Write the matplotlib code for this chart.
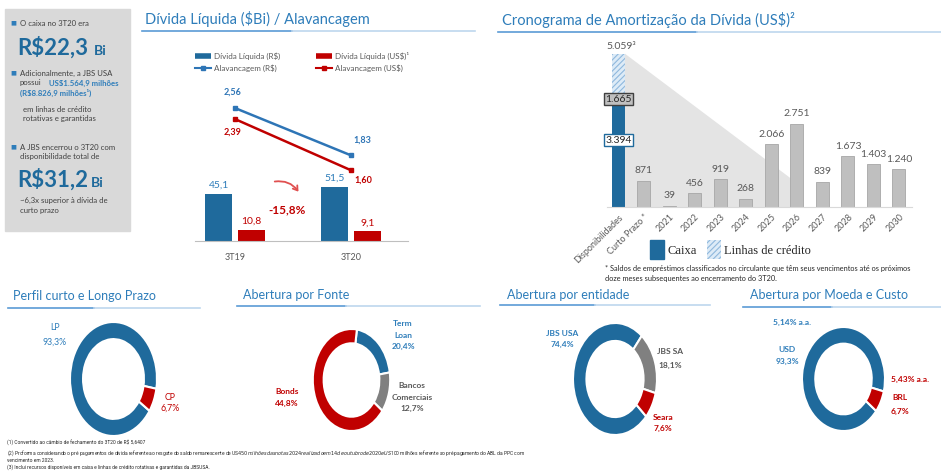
import numpy as np
import matplotlib
matplotlib.use('Agg')
import matplotlib.pyplot as plt
from matplotlib.patches import Rectangle, FancyArrowPatch, Polygon
from matplotlib.lines import Line2D

plt.rcParams['font.family'] = ['Lato', 'DejaVu Sans']
plt.rcParams['hatch.linewidth'] = 0.8

# Dívida líquida / alavancagem
periodos = ['3T19', '3T20']
divida_rs = [45.1, 51.5]
divida_us = [10.8, 9.1]
alav_rs = [2.56, 1.83]
alav_us = [2.39, 1.60]
variacao = '-15,8%'

# Cronograma de amortização (US$ milhões)
categorias = ['Disponibilidades', 'Curto Prazo *', '2021', '2022', '2023', '2024',
              '2025', '2026', '2027', '2028', '2029', '2030']
caixa = 3394
linhas_credito = 1665
amortizacao = [871, 39, 456, 919, 268, 2066, 2751, 839, 1673, 1403, 1240]

# Roscas
perfil_vals = [93.3, 6.7]          # LP, CP
fonte_vals = [20.4, 12.7, 66.9]    # Term Loan, Bancos Comerciais, Bonds (fatia vermelha visível)
entidade_vals = [74.4, 18.1, 7.6]  # JBS USA, JBS SA, Seara
moeda_vals = [93.3, 6.7]           # USD, BRL

W, H = 941, 476
AZUL = '#1f6a9c'
AZUL_TXT = '#2e7dba'
VERMELHO = '#c00000'
CINZA = '#808080'
CINZA_TXT = '#595959'

fig = plt.figure(figsize=(W / 100, H / 100), dpi=100)


def fx(x):
    return x / W


def fy(y):
    return 1 - y / H


def nova_ax(l, t, r, b):
    return fig.add_axes([fx(l), fy(b), (r - l) / W, (b - t) / H])


def texto(x, y, s, **kw):
    kw.setdefault('va', 'center')
    kw.setdefault('ha', 'left')
    fig.text(fx(x), fy(y), s, **kw)


def titulo(x, y, s, x0, x1, yl, size=10.5):
    texto(x, y, s, color=AZUL_TXT, fontsize=size)
    meio = x0 + (x1 - x0) * 0.45
    fig.add_artist(Line2D([fx(x0), fx(meio)], [fy(yl)] * 2, color='#5b9bd5', lw=1.2))
    fig.add_artist(Line2D([fx(meio), fx(x1)], [fy(yl)] * 2, color='#bdd7ee', lw=1.2))


def br(v, casas=1):
    return f'{v:.{casas}f}'.replace('.', ',')


def milhar(v):
    return f'{v:,}'.replace(',', '.')


# ---------- painel lateral ----------
fig.add_artist(Rectangle((fx(5), fy(231)), 125 / W, 222 / H, color='#d9d9d9', zorder=0))
corpo = dict(fontsize=5.6, color='#404040')
bala = dict(fontsize=4.5, color=AZUL_TXT)
texto(10, 23, '■', **bala)
texto(20, 23, 'O caixa no 3T20 era', **corpo)
texto(17, 48, 'R$22,3', fontsize=16, fontweight='bold', color=AZUL)
texto(94, 51, 'Bi', fontsize=10, fontweight='bold', color=AZUL)
texto(10, 73, '■', **bala)
texto(20, 73, 'Adicionalmente, a JBS USA', **corpo)
texto(20, 83, 'possui', **corpo)
texto(49, 83, 'US$1.564,9 milhões', fontsize=5.6, color=AZUL_TXT, fontweight='bold')
texto(20, 93, '(R$8.826,9 milhões¹)', fontsize=5.6, color=AZUL_TXT, fontweight='bold')
texto(23, 109, 'em linhas de crédito', **corpo)
texto(23, 119, 'rotativas e garantidas', **corpo)
texto(10, 147, '■', **bala)
texto(20, 147, 'A JBS encerrou o 3T20 com', **corpo)
texto(20, 157, 'disponibilidade total de', **corpo)
texto(17, 180, 'R$31,2', fontsize=16, fontweight='bold', color=AZUL)
texto(91, 183, 'Bi', fontsize=10, fontweight='bold', color=AZUL)
texto(20, 200, '~6,3x superior à dívida de', **corpo)
texto(20, 210, 'curto prazo', **corpo)

# ---------- Dívida líquida / Alavancagem ----------
titulo(145, 19, 'Dívida Líquida ($Bi) / Alavancagem', 142, 475, 31)
ax1 = nova_ax(195, 75, 408, 241)
x = np.arange(len(periodos))
desl, larg = 0.142, 0.23
ax1.bar(x - desl, divida_rs, larg, color=AZUL)
ax1.bar(x + desl, divida_us, larg, color=VERMELHO)
ax1.set_ylim(0, 158)
ax1.set_xlim(-0.345, 1.49)
for s in ['top', 'right', 'left']:
    ax1.spines[s].set_visible(False)
ax1.spines['bottom'].set_color('#bfbfbf')
ax1.set_yticks([])
ax1.set_xticks(x, periodos)
ax1.tick_params(axis='x', length=0, colors=CINZA_TXT, labelsize=6.5, pad=9)
ax1.patch.set_alpha(0)
for i in range(len(periodos)):
    ax1.annotate(br(divida_rs[i]), (x[i] - desl, divida_rs[i]), xytext=(0, 3),
                 textcoords='offset points', ha='center', va='bottom', fontsize=7.5, color=AZUL_TXT)
    ax1.annotate(br(divida_us[i]), (x[i] + desl, divida_us[i]), xytext=(0, 3),
                 textcoords='offset points', ha='center', va='bottom', fontsize=7.5, color=VERMELHO)

ax1b = ax1.twinx()
ax1b.plot(x, alav_rs, color='#2e75b6', marker='s', ms=3.5, lw=1.8)
ax1b.plot(x, alav_us, color=VERMELHO, marker='s', ms=3.5, lw=1.8)
ax1b.set_ylim(0.51, 3.07)
ax1b.axis('off')
ax1b.annotate(br(alav_rs[0], 2), (x[0], alav_rs[0]), xytext=(-2, 8), textcoords='offset points',
              ha='center', va='bottom', fontsize=6.5, fontweight='bold', color='#2e75b6')
ax1b.annotate(br(alav_us[0], 2), (x[0], alav_us[0]), xytext=(-2, -6), textcoords='offset points',
              ha='center', va='top', fontsize=6.5, fontweight='bold', color=VERMELHO)
ax1b.annotate(br(alav_rs[1], 2), (x[1], alav_rs[1]), xytext=(8, 11), textcoords='offset points',
              ha='center', va='center', fontsize=6.5, fontweight='bold', color='#2e75b6')
ax1b.annotate(br(alav_us[1], 2), (x[1], alav_us[1]), xytext=(9, -7), textcoords='offset points',
              ha='center', va='center', fontsize=6.5, fontweight='bold', color=VERMELHO)

leg = [Line2D([0], [0], color=AZUL, lw=4, solid_capstyle='butt'),
       Line2D([0], [0], color='#2e75b6', lw=1.5, marker='s', ms=3),
       Line2D([0], [0], color=VERMELHO, lw=4, solid_capstyle='butt'),
       Line2D([0], [0], color=VERMELHO, lw=1.5, marker='s', ms=3)]
nomes = ['Dívida Líquida (R$)', 'Alavancagem (R$)', 'Dívida Líquida (US$)¹', 'Alavancagem (US$)']
ax1.legend(leg, nomes, ncol=2, loc='upper left', bbox_to_anchor=(fx(188), fy(45)),
           bbox_transform=fig.transFigure, frameon=False, fontsize=5.8, labelcolor=CINZA_TXT,
           handlelength=2.0, handletextpad=0.3, columnspacing=4.5, labelspacing=0.5)

texto(287, 210, variacao, ha='center', fontsize=8.5, fontweight='bold', color=VERMELHO)
fig.add_artist(FancyArrowPatch((fx(272), fy(182)), (fx(300), fy(194)),
                               connectionstyle='arc3,rad=-0.35', arrowstyle='->,head_length=3,head_width=2',
                               color='#e05050', lw=1.3))

# ---------- Cronograma de amortização ----------
titulo(502, 20, 'Cronograma de Amortização da Dívida (US$)²', 498, 941, 32)
ax2 = nova_ax(607, 40, 912, 207)
xi = np.arange(len(categorias))
lb = 0.51
total = caixa + linhas_credito
# sombra do funil de liquidez até 2026
alcance = 8.25
fim = 7 - lb / 2
topo_fim = total * (alcance - fim) / (alcance - lb / 2)
ax2.add_patch(Polygon([(lb / 2, total), (fim, topo_fim), (fim, 0), (lb / 2, 0)],
                      closed=True, color='#e4e4e4', lw=0, zorder=0))
ax2.bar(0, caixa, lb, color=AZUL, zorder=2)
ax2.bar(0, linhas_credito, lb, bottom=caixa, color='#ddebf7', hatch='//////',
        edgecolor='#8fb8dd', lw=0, zorder=2)
ax2.bar(xi[1:], amortizacao, lb, color='#bfbfbf', edgecolor='#a6a6a6', lw=0.6, zorder=2)
for i, v in zip(xi[1:], amortizacao):
    ax2.annotate(milhar(v), (i, v), xytext=(0, 4), textcoords='offset points',
                 ha='center', va='bottom', fontsize=7.5, color=CINZA_TXT)
ax2.annotate(milhar(total) + '³', (0, total), xytext=(2, 2), textcoords='offset points',
             ha='center', va='bottom', fontsize=7.5, color=CINZA_TXT)
ax2.text(0, caixa + linhas_credito * 0.1, milhar(linhas_credito), ha='center', va='center',
         fontsize=7.5, color='#262626', zorder=4,
         bbox=dict(boxstyle='square,pad=0.15', fc='#bfbfbf', ec='#404040', lw=1))
ax2.text(0, caixa * 0.65, milhar(caixa), ha='center', va='center', fontsize=7.5, color='#262626',
         zorder=4, bbox=dict(boxstyle='square,pad=0.15', fc='white', ec=AZUL, lw=1))
ax2.set_xlim(-0.45, 11.51)
ax2.set_ylim(0, 5512)
for s in ['top', 'right', 'left']:
    ax2.spines[s].set_visible(False)
ax2.spines['bottom'].set_color('#d9d9d9')
ax2.set_yticks([])
ax2.set_xticks(xi, categorias, rotation=45, ha='right', rotation_mode='anchor')
ax2.tick_params(axis='x', length=0, colors=CINZA_TXT, labelsize=6.5, pad=4)
ax2.patch.set_alpha(0)

fig.add_artist(Rectangle((fx(650), fy(259)), 14 / W, 19 / H, color=AZUL))
fig.add_artist(Rectangle((fx(707), fy(259)), 14 / W, 19 / H, fc='#ddebf7', ec='#8fb8dd',
                         hatch='//////', lw=0))
texto(667, 251, 'Caixa', fontsize=9, family='Liberation Serif', color='#262626')
texto(724, 251, 'Linhas de crédito', fontsize=9, family='Liberation Serif', color='#262626')
texto(605, 268, '* Saldos de empréstimos classificados no circulante que têm seus vencimentos até os próximos',
      fontsize=5.3, color='#262626')
texto(605, 278, 'doze meses subsequentes ao encerramento do 3T20.', fontsize=5.3, color='#262626')

# ---------- Roscas ----------
LIMITE = 428


def rosca(cx, cy, rx, ry, vals, cores, inicio, largura=0.3):
    ax = nova_ax(cx - 1.05 * rx, cy - 1.05 * ry, cx + 1.05 * rx, LIMITE)
    ax.pie(vals, colors=cores, startangle=inicio, counterclock=False,
           wedgeprops=dict(width=largura, edgecolor='white', linewidth=1.5))
    ax.set_aspect('auto')
    ax.set_xlim(-1.05, 1.05)
    ax.set_ylim(-(LIMITE - cy) / ry, 1.05)
    return ax


titulo(13, 296, 'Perfil curto e Longo Prazo', 8, 200, 308, size=9)
rosca(113.5, 379, 43.5, 57, perfil_vals, [AZUL, VERMELHO], -34)
texto(55, 328, 'LP', ha='center', fontsize=6.3, color=AZUL_TXT)
texto(55, 342, br(perfil_vals[0]) + '%', ha='center', fontsize=6.3, color=AZUL_TXT)
texto(170, 397, 'CP', ha='center', fontsize=6.3, color=VERMELHO)
texto(170, 408, br(perfil_vals[1]) + '%', ha='center', fontsize=6.3, color=VERMELHO)

titulo(243, 295, 'Abertura por Fonte', 237, 480, 306, size=9)
rosca(351.5, 380, 38.7, 51, fonte_vals, [AZUL, CINZA, VERMELHO], 82, largura=0.28)
negr = dict(ha='center', fontsize=6, fontweight='bold')
texto(403, 324, 'Term', color=AZUL_TXT, **negr)
texto(403, 335, 'Loan', color=AZUL_TXT, **negr)
texto(403, 346, '20,4%', color=AZUL_TXT, **negr)
texto(412, 385, 'Bancos', color=CINZA_TXT, **negr)
texto(412, 397, 'Comerciais', color=CINZA_TXT, **negr)
texto(412, 408, '12,7%', color=CINZA_TXT, **negr)
texto(287, 391, 'Bonds', color=VERMELHO, **negr)
texto(287, 403, '44,8%', color=VERMELHO, **negr)

titulo(507, 295, 'Abertura por entidade', 500, 710, 305, size=9)
rosca(615, 379, 42, 56, entidade_vals, [AZUL, CINZA, VERMELHO], -42, largura=0.32)
texto(562, 333, 'JBS USA', color=AZUL_TXT, **negr)
texto(562, 344, br(entidade_vals[0]) + '%', color=AZUL_TXT, **negr)
texto(670, 352, 'JBS SA', color=CINZA_TXT, **negr)
texto(670, 365, br(entidade_vals[1]) + '%', color=CINZA_TXT, **negr)
texto(663, 417, 'Seara', color=VERMELHO, **negr)
texto(663, 428, br(entidade_vals[2]) + '%', color=VERMELHO, **negr)

titulo(750, 295, 'Abertura por Moeda e Custo', 743, 941, 307, size=9)
rosca(843.5, 379, 41.5, 52, moeda_vals, [AZUL, VERMELHO], -38, largura=0.32)
texto(792, 322, '5,14% a.a.', color=AZUL_TXT, **negr)
texto(787, 350, 'USD', color=AZUL_TXT, **negr)
texto(787, 361, br(moeda_vals[0]) + '%', color=AZUL_TXT, **negr)
texto(910, 379, '5,43% a.a.', color=VERMELHO, **negr)
texto(900, 398, 'BRL', color=VERMELHO, **negr)
texto(900, 411, br(moeda_vals[1]) + '%', color=VERMELHO, **negr)

# ---------- notas de rodapé ----------
nota = dict(fontsize=3.5, color='#262626', family='Roboto')
texto(7, 443, '(1) Convertido ao câmbio de fechamento do 3T20 de R$ 5,6407', **nota)
texto(7, 453, '(2) Proforma considerando o pré pagamentos de dívida referente ao resgate do saldo remanescente de '
              'US$450 milhões das notas 2024 realizado em 14 de outubro de 2020 e US$100 milhões referente ao pré '
              'pagamento do ABL da PPC com', **nota)
texto(7, 460, 'vencimento em 2023.', **nota)
texto(7, 467, '(3) Inclui recursos disponíveis em caixa e linhas de crédito rotativas e garantidas da JBSUSA.', **nota)

fig.savefig('out.png', dpi=100)
